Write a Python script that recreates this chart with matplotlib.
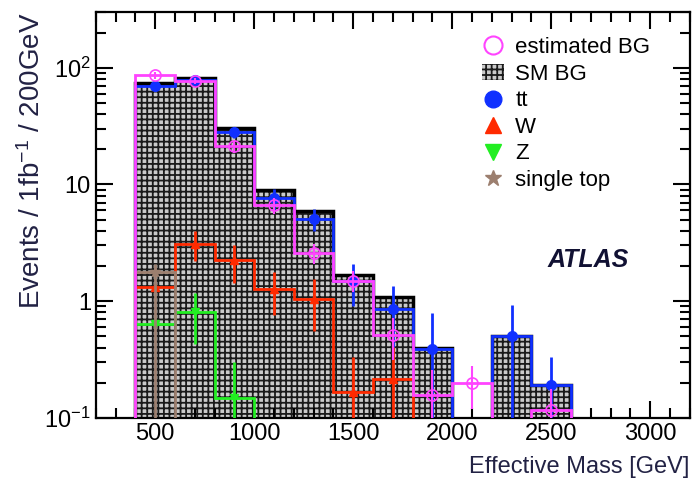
import matplotlib
matplotlib.use("Agg")
import matplotlib.pyplot as plt
import numpy as np
from matplotlib.ticker import FixedLocator, FixedFormatter, MultipleLocator
from matplotlib.lines import Line2D
from matplotlib.patches import Patch

plt.rcParams['font.family'] = ['Liberation Sans', 'DejaVu Sans']
plt.rcParams['mathtext.fontset'] = 'custom'
plt.rcParams['mathtext.rm'] = 'Liberation Sans'
plt.rcParams['mathtext.it'] = 'Liberation Sans:italic'
plt.rcParams['hatch.linewidth'] = 1.3
plt.rcParams['hatch.color'] = '#1a1a1a'

# bin edges (GeV), 200 GeV bins
edges = np.arange(200, 3201, 200)
centers = edges[:-1] + 100

# values per bin: 200-400, 400-600, ..., 3000-3200
sm_bg = [0, 73.5, 81, 30.3, 8.9, 5.9, 1.66, 1.08, 0.40, 0, 0.50, 0.19, 0, 0, 0]
est_bg = [0, 86, 77, 21.2, 6.6, 2.56, 1.5, 0.515, 0.157, 0.2, 0, 0.117, 0, 0, 0]
est_err = [0, 6, 5, 2.5, 1.0, 0.5, 0.3, 0.2, 0.1, 0.08, 0, 0.06, 0, 0, 0]
tt = [0, 70, 78, 28, 7.6, 5.1, 1.5, 0.86, 0.39, 0, 0.50, 0.19, 0, 0, 0]
tt_err = [0, 5, 5, 3, 1.6, 1.1, 0.6, 0.5, 0.4, 0, 0.42, 0.14, 0, 0, 0]
w = [0, 1.33, 3.1, 2.23, 1.26, 1.05, 0.165, 0.216, 0, 0, 0, 0, 0, 0, 0]
w_err = [0, 0.05, 0.9, 0.8, 0.5, 0.5, 0.17, 0.19, 0, 0, 0, 0, 0, 0, 0]
z = [0, 0.64, 0.80, 0.149, 0, 0, 0, 0, 0, 0, 0, 0, 0, 0, 0]
z_err = [0, 0.03, 0.37, 0.15, 0, 0, 0, 0, 0, 0, 0, 0, 0, 0, 0]
stop = [0, 1.77, 0, 0, 0, 0, 0, 0, 0, 0, 0, 0, 0, 0, 0]
stop_err_lo = [0, 1.77, 0, 0, 0, 0, 0, 0, 0, 0, 0, 0, 0, 0, 0]
stop_err_hi = [0, 0.3, 0, 0, 0, 0, 0, 0, 0, 0, 0, 0, 0, 0, 0]

pink = '#ff44ff'
blue = '#1030ff'
red = '#ff2a00'
green = '#22ee22'
brown = '#9c7f6f'
hatch_face = '#cacaca'


def pts(vals, errs):
    # only bins with content get a marker
    v = np.array(vals, dtype=float)
    e = np.array(errs, dtype=float)
    m = v > 0
    return centers[m], v[m], e[m]


fig = plt.figure(figsize=(6.94, 4.83), dpi=100)
ax = fig.add_axes([0.138, 0.135, 0.856, 0.84])
ax.set_yscale('log')
ax.set_xlim(200, 3200)
ax.set_ylim(0.1, 300)

ax.stairs(sm_bg, edges, baseline=1e-3, fill=True, facecolor=hatch_face,
          hatch='+++', lw=0, zorder=1)
ax.stairs(sm_bg, edges, baseline=1e-3, color='black', lw=2.5, zorder=2)

ax.stairs(tt, edges, baseline=1e-3, color=blue, lw=2, zorder=3)
x, y, e = pts(tt, tt_err)
ax.errorbar(x, y, yerr=e, fmt='o', color=blue, ms=7, elinewidth=2, capsize=0, zorder=4)

ax.stairs(w, edges, baseline=1e-3, color=red, lw=2, zorder=6)
x, y, e = pts(w, w_err)
ax.errorbar(x, y, yerr=e, fmt='^', color=red, ms=6, elinewidth=2, capsize=0, zorder=6)

ax.stairs(z, edges, baseline=1e-3, color=green, lw=2, zorder=7)
x, y, e = pts(z, z_err)
ax.errorbar(x, y, yerr=e, fmt='v', color=green, ms=6, elinewidth=2, capsize=0, zorder=7)

ax.stairs(stop, edges, baseline=1e-3, color=brown, lw=2, zorder=8)
sv = np.array(stop)
m = sv > 0
ax.errorbar(centers[m], sv[m], yerr=[np.array(stop_err_lo)[m], np.array(stop_err_hi)[m]],
            fmt='*', color=brown, ms=7, elinewidth=2, capsize=0, zorder=8)

ax.stairs(est_bg, edges, baseline=1e-3, color=pink, lw=2, zorder=9)
x, y, e = pts(est_bg, est_err)
ax.errorbar(x, y, yerr=e, fmt='o', color=pink, mfc='none', ms=8, mew=1.2,
            elinewidth=1.5, capsize=0, zorder=9)

# axes styling
ax.xaxis.set_minor_locator(MultipleLocator(100))
ax.set_xticks([500, 1000, 1500, 2000, 2500, 3000])
ax.set_xticklabels(['500', '1000', '1500', '2000', '2500', '3000'])
ax.yaxis.set_major_locator(FixedLocator([0.1, 1, 10, 100]))
ax.yaxis.set_major_formatter(FixedFormatter([r'$10^{-1}$', '1', '10', r'$10^{2}$']))
ax.tick_params(which='both', direction='in', top=True, right=True, width=1.5, labelsize=17)
ax.tick_params(which='major', length=12)
ax.tick_params(which='minor', length=7)
for s in ax.spines.values():
    s.set_linewidth(1.6)

ax.set_xlabel('Effective Mass [GeV]', fontsize=17, loc='right', color='#222244', labelpad=8)
ax.set_ylabel(r'Events / 1fb$^{-1}$ / 200GeV', fontsize=20, loc='top', color='#222244')
ax.yaxis.set_label_coords(-0.083, 1.0)

ax.text(2480, 2.25, 'ATLAS', fontsize=18, fontweight='bold', style='italic',
        ha='left', va='center', color='#111133')

# legend
handles = [
    Line2D([], [], ls='none', marker='o', mfc='none', mec=pink, ms=13, mew=1.5),
    Patch(facecolor=hatch_face, hatch='+++', lw=0),
    Line2D([], [], ls='none', marker='o', color=blue, ms=12),
    Line2D([], [], ls='none', marker='^', color=red, ms=12),
    Line2D([], [], ls='none', marker='v', color=green, ms=12),
    Line2D([], [], ls='none', marker='*', color=brown, ms=12),
]
labels = ['estimated BG', 'SM BG', 'tt', 'W', 'Z', 'single top']
ax.legend(handles, labels, loc='upper left', bbox_to_anchor=(0.635, 0.96),
          frameon=False, fontsize=16, labelspacing=0.25, handlelength=1.0,
          handletextpad=0.5, borderaxespad=0)

fig.savefig('out.png', dpi=100)
